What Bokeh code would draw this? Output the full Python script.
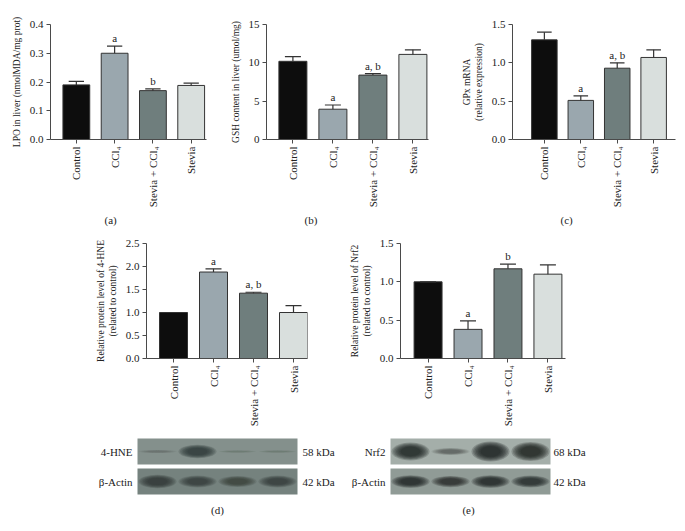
import math
from bokeh.plotting import figure
from bokeh.layouts import column, row
from bokeh.models import Range1d, FixedTicker, Title, Spacer, ColumnDataSource, NumeralTickFormatter
from bokeh.embed import file_html
from bokeh.resources import INLINE
from bokeh.core.properties import value

FONT = "Liberation Serif"
TXT = "#222222"
AX = "#4a4a4a"

groups = ["Control", "CCl\u2084", "Stevia + CCl\u2084", "Stevia"]
colors = ["#0d0d0d", "#9aa7ae", "#6f7e7d", "#d9dfdd"]

lpo = [0.19, 0.30, 0.17, 0.188]
lpo_err = [0.012, 0.025, 0.006, 0.008]
lpo_sig = ["", "a", "b", ""]

gsh = [10.2, 3.95, 8.4, 11.1]
gsh_err = [0.6, 0.55, 0.2, 0.6]
gsh_sig = ["", "a", "a, b", ""]

gpx = [1.30, 0.51, 0.93, 1.07]
gpx_err = [0.10, 0.06, 0.07, 0.10]
gpx_sig = ["", "a", "a, b", ""]

hne = [1.0, 1.88, 1.42, 1.0]
hne_err = [0.0, 0.07, 0.02, 0.15]
hne_sig = ["", "a", "a, b", ""]

nrf2 = [1.0, 0.38, 1.17, 1.10]
nrf2_err = [0.0, 0.11, 0.06, 0.12]
nrf2_sig = ["", "a", "b", ""]

# western blot band intensities (0..1), lanes in group order
hne_band = [0.2, 0.85, 0.15, 0.15]
actin_d_band = [0.8, 0.7, 0.65, 0.7]
nrf2_band = [0.9, 0.35, 1.0, 0.95]
actin_e_band = [0.85, 0.75, 0.85, 0.8]


def bar_chart(vals, errs, sig, ylabel, ymax, ticks, fmt, width, height,
              bl, br, bt, bb, pad_l, pad_r, panel, panel_off):
    x = [1, 2, 3, 4]
    p = figure(width=width, height=height,
               x_range=Range1d(1 - pad_l, 4 + pad_r), y_range=Range1d(0, ymax),
               output_backend="svg", toolbar_location=None,
               min_border_left=bl, min_border_right=br,
               min_border_top=bt, min_border_bottom=bb)
    p.outline_line_color = None
    p.grid.visible = False
    src = ColumnDataSource(dict(
        x=x, top=vals, color=colors,
        etop=[v + e for v, e in zip(vals, errs)],
        cl=[xi - 0.2 for xi in x], cr=[xi + 0.2 for xi in x],
        sig=sig))
    p.vbar(x="x", top="top", bottom=0, width=0.7, fill_color="color",
           line_color="#333333", line_width=1, source=src)
    p.segment(x0="x", y0="top", x1="x", y1="etop", line_color="#333333",
              line_width=1.2, source=src)
    p.segment(x0="cl", y0="etop", x1="cr", y1="etop", line_color="#333333",
              line_width=1.2, source=src)
    p.text(x="x", y="etop", text="sig", text_align="center",
           text_baseline="bottom", y_offset=-2, text_font=value(FONT),
           text_font_size="11px", text_color=TXT, source=src)

    p.xaxis.ticker = FixedTicker(ticks=x)
    p.xaxis.major_label_overrides = {xi: g for xi, g in zip(x, groups)}
    p.xaxis.major_label_orientation = math.pi / 2
    p.yaxis.ticker = FixedTicker(ticks=ticks)
    p.yaxis.formatter = NumeralTickFormatter(format=fmt)
    p.yaxis.axis_label = ylabel
    for ax in p.axis:
        ax.axis_line_color = AX
        ax.major_tick_line_color = AX
        ax.minor_tick_line_color = None
        ax.major_tick_in = 0
        ax.major_tick_out = 4
        ax.major_label_standoff = 3
        ax.major_label_text_font = FONT
        ax.major_label_text_font_size = "11px"
        ax.major_label_text_color = TXT
        ax.axis_label_text_font = FONT
        ax.axis_label_text_font_size = "9.5px"
        ax.axis_label_text_font_style = "normal"
        ax.axis_label_text_color = TXT
        ax.axis_label_standoff = 5
    if panel:
        p.add_layout(Title(text=panel, align="left", offset=panel_off,
                           text_font=FONT, text_font_size="11px",
                           text_font_style="normal", text_color=TXT,
                           standoff=3), "below")
    return p


fa = bar_chart(lpo, lpo_err, lpo_sig, "LPO in liver (nmolMDA/mg prot)", 0.4,
               [0, 0.1, 0.2, 0.3, 0.4], "0.0", 218, 220, 35, 20, 16, 89,
               0.675, 0.4, "(a)", 54)
fb = bar_chart(gsh, gsh_err, gsh_sig, "GSH content in liver (umol/mg)", 15,
               [0, 5, 10, 15], "0", 232, 220, 40, 30, 16, 89,
               0.66, 0.39, "(b)", 38)
fc = bar_chart(gpx, gpx_err, gpx_sig, "GPx mRNA\n(relative expression)", 1.5,
               [0, 0.5, 1.0, 1.5], "0.0", 219, 220, 38, 2, 16, 89,
               0.875, 0.6, "(c)", 48)
fd = bar_chart(hne, hne_err, hne_sig,
               "Relative protein level of 4-HNE\n(related to control)", 2.5,
               [0, 0.5, 1.0, 1.5, 2.0, 2.5], "0.0", 243, 202, 56, 26, 15, 72,
               0.675, 0.35, None, 0)
fe = bar_chart(nrf2, nrf2_err, nrf2_sig,
               "Relative protein level of Nrf2\n(related to control)", 1.5,
               [0, 0.5, 1.0, 1.5], "0.0", 267, 202, 67, 35, 15, 72,
               0.69, 0.44, None, 0)

# ---- western blots (one figure, lane units: 40 px per lane) ----
H = 93
X0 = -2.725
bl = figure(width=669, height=H, x_range=Range1d(X0, X0 + 669 / 40),
            y_range=Range1d(H, 0), output_backend="svg",
            toolbar_location=None, x_axis_location=None,
            y_axis_location=None, min_border=0)
bl.outline_line_color = None
bl.grid.visible = False


def blot(shift, names, kdas, bands, bgs, band_col, hscale, y0, panel,
         lab_x, kda_x, panel_x):
    lanes = [l + shift for l in [1, 2, 3, 4]]
    for i in range(2):
        top = y0 + i * 30
        bot = top + 26
        cy = (top + bot) / 2
        bl.quad(left=[0.5 + shift], right=[4.5 + shift], top=[top], bottom=[bot],
                fill_color=bgs[i], line_color=None)
        for k in range(7):
            sc = 1.0 - k * 0.08
            bl.ellipse(x=lanes, y=[cy] * 4, width=0.95 * sc,
                       height=[hscale[i] * b * sc for b in bands[i]],
                       fill_color=band_col, line_color=None,
                       fill_alpha=[b * 0.22 for b in bands[i]])
        bl.text(x=[lab_x + shift], y=[cy], text=[names[i]], text_align="right",
                text_baseline="middle", text_font=value(FONT),
                text_font_size="11px", text_color=TXT)
        bl.text(x=[kda_x + shift], y=[cy], text=[kdas[i]], text_align="left",
                text_baseline="middle", text_font=value(FONT),
                text_font_size="11px", text_color=TXT)
    bl.text(x=[panel_x + shift], y=[79], text=[panel], text_align="center",
            text_baseline="middle", text_font=value(FONT),
            text_font_size="11px", text_color=TXT)


blot(0.0, ["4-HNE", "\u03b2-Actin"], ["58 kDa", "42 kDa"],
     [hne_band, actin_d_band], ["#84908c", "#75827e"], "#27302e", [16, 17], 8,
     "(d)", 0.375, 4.625, 2.5)
blot(6.325, ["Nrf2", "\u03b2-Actin"], ["68 kDa", "42 kDa"],
     [nrf2_band, actin_e_band], ["#a4aea9", "#909b96"], "#161b1a", [20, 15], 8,
     "(e)", 0.375, 4.575, 2.45)

body = column(
    row(fa, fb, fc),
    row(Spacer(width=82, height=202), fd, fe),
    bl,
)
layout = column(Spacer(width=677, height=8), row(Spacer(width=8, height=515), body))

open("out.html", "w").write(file_html(layout, INLINE))
